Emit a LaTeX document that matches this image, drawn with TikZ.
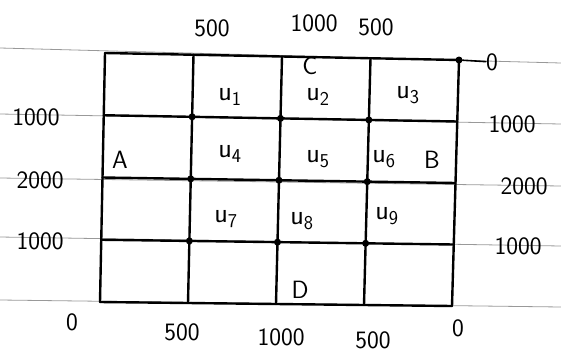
\documentclass[tikz,border=0pt]{standalone}
\usetikzlibrary{calc}
\begin{document}
\begin{tikzpicture}[x=1pt,y=-1pt,
  grid/.style={line width=2.4pt,line cap=round,black},
  paper/.style={line width=0.8pt,black!40},
  lbl/.style={font=\sffamily\fontsize{25}{27}\selectfont,inner sep=0pt},
  ulbl/.style={font=\sffamily\fontsize{28}{30}\selectfont,inner sep=0pt},
  dotpt/.style={circle,fill=black,inner sep=0pt,minimum size=7pt}]
\useasboundingbox (0,0) rectangle (561,356);
% paper ruling
\foreach \k/\yl/\yr in {0/48/63,1/114/124,2/178/186,3/237/246,4/300/307}{
  \coordinate (pl\k) at (0,\yl);
  \coordinate (pr\k) at (561,\yr);
  \draw[paper] (pl\k) -- (pr\k);
}
% grid corners
\coordinate (TL) at (105,53);
\coordinate (TR) at (459,60);
\coordinate (BL) at (100,302);
\coordinate (BR) at (452,306);
\foreach \i in {0,...,4}{
  \coordinate (t\i) at ($(TL)!\i/4!(TR)$);
  \coordinate (b\i) at ($(BL)!\i/4!(BR)$);
}
\foreach \i in {0,...,4}{
  \foreach \j in {0,...,4}{
    \coordinate (p\i\j) at ($(t\i)!\j/4!(b\i)$);
  }
}
\foreach \j in {0,...,4}{ \draw[grid] (p0\j) -- (p4\j); }
\foreach \i in {0,...,4}{ \draw[grid] (p\i0) -- (p\i4); }
\foreach \i in {1,2,3}{
  \foreach \j in {1,2,3}{
    \node[dotpt] (d\i\j) at (p\i\j) {};
  }
}
\node[dotpt] (dtr) at (p40) {};
\node[lbl] (zr) at (492,62) {0};
\draw[grid,line width=1.6pt] (dtr) -- (zr);
% top labels
\node[lbl] (t500a) at (212,28) {500};
\node[lbl] (t1000) at (314,23) {1000};
\node[lbl] (t500b) at (376,27) {500};
% left labels
\node[lbl] (l1) at (36,117) {1000};
\node[lbl] (l2) at (40,180) {2000};
\node[lbl] (l3) at (40,241) {1000};
% right labels
\node[lbl] (r1) at (512,124) {1000};
\node[lbl] (r2) at (524,186) {2000};
\node[lbl] (r3) at (518,246) {1000};
% bottom labels
\node[lbl] (b0a) at (72,322) {0};
\node[lbl] (b500a) at (182,332) {500};
\node[lbl] (b1000) at (281,337) {1000};
\node[lbl] (b500b) at (373,340) {500};
\node[lbl] (b0b) at (458,328) {0};
% cell labels
\node[lbl] (C) at (310,66) {C};
\node[ulbl] (u1) at (230,97) {u\textsubscript{1}};
\node[ulbl] (u2) at (318,97) {u\textsubscript{2}};
\node[ulbl] (u3) at (408,95) {u\textsubscript{3}};
\node[lbl] (A) at (120,160) {A};
\node[ulbl] (u4) at (230,154) {u\textsubscript{4}};
\node[ulbl] (u5) at (318,159) {u\textsubscript{5}};
\node[ulbl] (u6) at (384,159) {u\textsubscript{6}};
\node[lbl] (B) at (432,160) {B};
\node[ulbl] (u7) at (226,219) {u\textsubscript{7}};
\node[ulbl] (u8) at (302,221) {u\textsubscript{8}};
\node[ulbl] (u9) at (387,216) {u\textsubscript{9}};
\node[lbl] (D) at (300,290) {D};
\end{tikzpicture}
\end{document}
